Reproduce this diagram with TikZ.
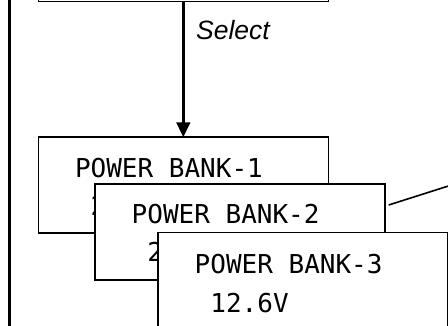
\documentclass[tikz,border=0pt]{standalone}
\usepackage{fontspec}
\setmainfont{Liberation Sans}
\newfontfamily\monofont{DejaVu Sans Mono}
\usetikzlibrary{arrows.meta}
\begin{document}
\begin{tikzpicture}[x=1pt,y=-1pt,
  bank/.style={draw=black,line width=1.6pt,fill=white,rectangle,anchor=north west,
    minimum width=290pt,minimum height=96pt,inner sep=0pt,outer sep=0pt},
  banktext/.style={anchor=base west,inner sep=0pt,font=\monofont\fontsize{26}{30}\selectfont},
  lbl/.style={anchor=base west,inner sep=0pt,font=\itshape\fontsize{26.5}{30}\selectfont}]
\useasboundingbox (0,0) rectangle (448,326);
% outer left edge
\coordinate (ltop) at (9.5,-10);
\coordinate (lbot) at (9.5,340);
\draw[line width=3pt] (ltop) -- (lbot);
% top box (mostly outside the frame)
\node[bank,anchor=south west] (top) at (38.3,1.5) {};
% boxes
\node[bank] (b1) at (38.3,137.3) {};
\node[banktext] (t1a) at ([shift={(36.5,40)}]b1.north west) {POWER BANK-1};
\node[banktext] (t1b) at ([shift={(52.2,78)}]b1.north west) {2};
\node[bank] (b2) at (95,184) {};
\node[banktext] (t2a) at ([shift={(36.5,39.5)}]b2.north west) {POWER BANK-2};
\node[banktext] (t2b) at ([shift={(52.2,78)}]b2.north west) {2};
\node[bank] (b3) at (158,232.7) {};
\node[banktext] (t3a) at ([shift={(36.5,41)}]b3.north west) {POWER BANK-3};
\node[banktext] (t3b) at ([shift={(52.2,80)}]b3.north west) {12.6V};
% select arrow
\draw[line width=3pt,-{Triangle[width=13.5pt,length=15pt]}] (top.south) -- (b1.north);
\node[lbl] (sel) at (196,40) {Select};
% connector leaving box 2
\coordinate (c2) at ([shift={(3.7,21)}]b2.north east);
\coordinate (cfar) at (472,178.5);
\draw[line width=1.6pt] (c2) -- (cfar);
\end{tikzpicture}
\end{document}
